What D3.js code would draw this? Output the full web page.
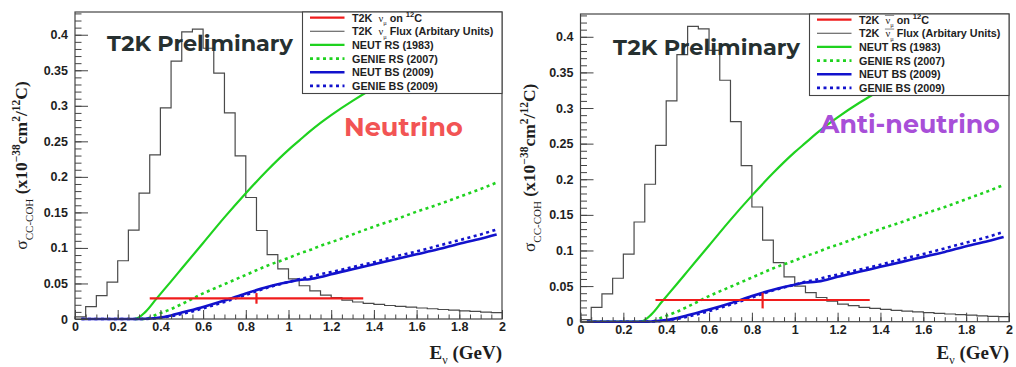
<!DOCTYPE html>
<html><head><meta charset="utf-8">
<script src="https://cdn.jsdelivr.net/npm/d3@7"></script>
<style>body{margin:0;background:#fff} svg{display:block} text{white-space:pre}</style>
</head><body><svg id="c" width="1016" height="367"></svg>
<script>
// ---------------- DATA ----------------
const fluxBinEdges = [0,0.05,0.1,0.15,0.2,0.25,0.3,0.35,0.4,0.45,0.5,0.55,0.6,0.65,0.7,0.75,0.8,0.85,0.9,0.95,1.0,
  1.05,1.1,1.15,1.2,1.25,1.3,1.35,1.4,1.45,1.5,1.55,1.6,1.65,1.7,1.75,1.8,1.85,1.9,1.95,2.0];
const fluxNu = [0.003,0.0175,0.033,0.052,0.082,0.125,0.177,0.231,0.297,0.363,0.404,0.408,0.381,0.346,0.290,0.2295,
  0.171,0.1245,0.0905,0.0705,0.0565,0.0468,0.0395,0.0337,0.030,0.0267,0.0239,0.022,0.0205,0.019,0.0178,0.0166,
  0.0155,0.0144,0.0134,0.0124,0.0115,0.0106,0.0098,0.0090];
const fluxNuBar = [0.003,0.020,0.039,0.061,0.095,0.140,0.193,0.2475,0.310,0.375,0.4145,0.411,0.381,0.339,0.281,0.219,
  0.161,0.1146,0.083,0.063,0.050,0.0407,0.034,0.029,0.0248,0.0225,0.020,0.0187,0.0172,0.016,0.0149,0.0138,
  0.0128,0.0118,0.0108,0.0099,0.0091,0.0083,0.0076,0.0070];

const curveE  = [0.03,0.1,0.2,0.28,0.33,0.38,0.45,0.5,0.6,0.7,0.8,0.9,1.0,1.05,1.1,1.15,1.2,1.3,1.4,1.5,1.6,1.7,1.8,1.9,1.975];
const neutRS  = [0,0,0,0,0.010,0.028,0.053,0.071,0.107,0.143,0.177,0.209,0.238,0.251,0.264,0.276,0.287,0.307,0.325,0.341,0.356,0.370,0.383,0.395,0.404];
const genieRS = [null,null,null,0,0,0.006,0.014,0.021,0.036,0.049,0.062,0.075,0.086,0.092,0.097,0.103,0.108,0.119,0.130,0.140,0.151,0.161,0.172,0.183,0.192];
const neutBS  = [0,0,0,0,0.0003,0.0015,0.005,0.009,0.017,0.026,0.036,0.045,0.052,0.055,0.056,0.059,0.063,0.070,0.077,0.084,0.091,0.098,0.106,0.113,0.119];
const genieBS = [0,0,0,0,0.0002,0.001,0.004,0.007,0.015,0.024,0.034,0.044,0.052,0.056,0.059,0.063,0.066,0.073,0.080,0.088,0.095,0.103,0.111,0.119,0.126];

// T2K measurement [neutrino, anti-neutrino]
const measE      = [0.85, 0.85];
const measSigma  = [0.029, 0.0305];
const measErrLo  = [0.0075, 0.0118];
const measErrHi  = [0.0075, 0.0102];
const measBinLo  = [0.35, 0.35];
const measBinHi  = [1.35, 1.35];

const xTicks = [0,0.2,0.4,0.6,0.8,1,1.2,1.4,1.6,1.8,2];
const xTickLabels = ["0","0.2","0.4","0.6","0.8","1","1.2","1.4","1.6","1.8","2"];
const yTicks = [0,0.05,0.1,0.15,0.2,0.25,0.3,0.35,0.4];
const yTickLabels = ["0","0.05","0.1","0.15","0.2","0.25","0.3","0.35","0.4"];
const panelTitles = ["Neutrino","Anti-neutrino"];
const legendNames = ["NEUT RS (1983)","GENIE RS (2007)","NEUT BS (2009)","GENIE BS (2009)"];

// ---------------- LAYOUT / STYLE ----------------
const panels = [
  {x0:75, x1:502, y0:12, y1:319, flux:fluxNu, idx:0, anti:false, titleColor:"#f25454",
   prelim:{x:107, y:50.5, w:186}, title:{x:344, y:136, w:119}, ytitleX:27, xtitleY:359},
  {x0:580.5, x1:1009, y0:14, y1:321.7, flux:fluxNuBar, idx:1, anti:true, titleColor:"#a84fd8",
   prelim:{x:613, y:55, w:187}, title:{x:820, y:132.5, w:180}, ytitleX:535, xtitleY:359}
];
const C = {green:"#1fd21f", blue:"#1212cc", red:"#f01c1c", hist:"#4a4a4a", frame:"#444", text:"#1e1e1e"};
const svg = d3.select("#c");
const sans = "'Liberation Sans', Arial, sans-serif";
const serif = "'Liberation Serif', 'Times New Roman', serif";

function richText(sel, segs, base) {
  let cur = 0;
  segs.forEach(s => {
    const shift = s.sub ? base*0.32 : s.sup ? -base*0.42 : 0;
    const ts = sel.append("tspan").text(s.t).attr("dy", shift - cur);
    cur = shift;
    if (s.size) ts.attr("font-size", s.size);
    if (s.family) ts.attr("font-family", s.family);
    if (s.weight) ts.attr("font-weight", s.weight);
  });
}

function fitText(t, w) {
  const cur = t.node().getComputedTextLength();
  const fs = parseFloat(t.attr("font-size"));
  t.attr("font-size", fs * w / cur);
}

panels.forEach(p => {
  const g = svg.append("g");
  const x = d3.scaleLinear().domain([0,2]).range([p.x0,p.x1]);
  const y = d3.scaleLinear().domain([0,0.432]).range([p.y1,p.y0]);

  // histogram (flux)
  let d = `M${x(fluxBinEdges[0])},${y(0)}`;
  p.flux.forEach((v,i) => { d += `L${x(fluxBinEdges[i])},${y(v)}L${x(fluxBinEdges[i+1])},${y(v)}`; });
  g.append("path").attr("d", d).attr("fill","none").attr("stroke",C.hist).attr("stroke-width",1.2);

  // "T2K Preliminary"
  const pt = g.append("text").attr("x",p.prelim.x).attr("y",p.prelim.y).text("T2K Preliminary")
    .attr("font-family","Montserrat, Inter, 'Open Sans', sans-serif").attr("font-weight",700)
    .attr("font-size",24).attr("fill","#263030");
  fitText(pt, p.prelim.w);

  // curves
  const line = ys => d3.line().defined((v,i)=>ys[i]!==null).x((v,i)=>x(curveE[i])).y((v,i)=>y(ys[i])).curve(d3.curveMonotoneX)(curveE);
  g.append("path").attr("d",line(neutRS)).attr("fill","none").attr("stroke",C.green).attr("stroke-width",2.2);
  g.append("path").attr("d",line(genieRS)).attr("fill","none").attr("stroke",C.green).attr("stroke-width",2.6).attr("stroke-dasharray","3,3.5");
  g.append("path").attr("d",line(neutBS)).attr("fill","none").attr("stroke",C.blue).attr("stroke-width",2.6);
  g.append("path").attr("d",line(genieBS)).attr("fill","none").attr("stroke",C.blue).attr("stroke-width",2.6).attr("stroke-dasharray","3,3.5");

  // measurement
  const k = p.idx;
  g.append("line").attr("x1",x(measBinLo[k])).attr("x2",x(measBinHi[k])).attr("y1",y(measSigma[k])).attr("y2",y(measSigma[k]))
    .attr("stroke",C.red).attr("stroke-width",2.2);
  g.append("line").attr("x1",x(measE[k])).attr("x2",x(measE[k])).attr("y1",y(measSigma[k]-measErrLo[k])).attr("y2",y(measSigma[k]+measErrHi[k]))
    .attr("stroke",C.red).attr("stroke-width",2.2);

  // panel title
  const tt = g.append("text").attr("x",p.title.x).attr("y",p.title.y).text(panelTitles[k])
    .attr("font-family","Montserrat, Inter, 'Open Sans', sans-serif").attr("font-weight",700)
    .attr("font-size",26).attr("fill",p.titleColor);
  fitText(tt, p.title.w);

  // axes: minor ticks
  const xMinor = d3.axisBottom(x).tickValues(d3.range(0,2.0001,0.05)).tickSize(-4.5).tickFormat("");
  const yMinor = d3.axisLeft(y).tickValues(d3.range(0,0.4301,0.01)).tickSize(-6.5).tickFormat("");
  g.append("g").attr("transform",`translate(0,${p.y1})`).call(xMinor);
  g.append("g").attr("transform",`translate(${p.x0},0)`).call(yMinor);
  const xAxis = d3.axisBottom(x).tickValues(xTicks).tickFormat((v,i)=>xTickLabels[i]).tickSize(-9).tickPadding(3.5);
  const yAxis = d3.axisLeft(y).tickValues(yTicks).tickFormat((v,i)=>yTickLabels[i]).tickSize(-13).tickPadding(7);
  g.append("g").attr("class","ax").attr("transform",`translate(0,${p.y1})`).call(xAxis);
  g.append("g").attr("class","ax").attr("transform",`translate(${p.x0},0)`).call(yAxis);
  g.selectAll(".domain").remove();
  g.selectAll(".tick line").attr("stroke",C.frame).attr("stroke-width",1);
  g.selectAll(".ax text").attr("font-family",sans).attr("font-weight",700).attr("font-size",12.5).attr("fill",C.text);

  // frame
  g.append("rect").attr("x",p.x0).attr("y",p.y0).attr("width",p.x1-p.x0).attr("height",p.y1-p.y0)
    .attr("fill","none").attr("stroke",C.frame).attr("stroke-width",1.2);

  // legend
  const lx = p.x1 - 199.5, ly = p.y0, lh = 81.5;
  const lg = g.append("g");
  lg.append("rect").attr("x",lx).attr("y",ly).attr("width",199.5).attr("height",lh)
    .attr("fill","#fff").attr("stroke",C.frame).attr("stroke-width",1.1);
  const rows = [
    {stroke:C.red, w:2.2},
    {stroke:C.hist, w:1.1},
    {stroke:C.green, w:2.4},
    {stroke:C.green, w:2.8, dash:"3,3.5"},
    {stroke:C.blue, w:2.6},
    {stroke:C.blue, w:2.8, dash:"3,3.5"}
  ];
  rows.forEach((r,i) => {
    const ry = ly + 5.6 + i*13.65;
    lg.append("line").attr("x1",lx+7.5).attr("x2",lx+42).attr("y1",ry).attr("y2",ry)
      .attr("stroke",r.stroke).attr("stroke-width",r.w).attr("stroke-dasharray",r.dash||null);
    const t = lg.append("text").attr("x",lx+49.5).attr("y",ry+4)
      .attr("font-family",sans).attr("font-weight",700).attr("font-size",10.8).attr("fill",C.text);
    const nu = [{t:"T2K  "},{t:"ν",family:serif,weight:400,size:10.5},{t:"μ",sub:true,family:serif,weight:400,size:6.5}];
    if (i===0) richText(t, nu.concat([{t:" on "},{t:"12",sup:true,size:7.5},{t:"C"}]), 10.8);
    else if (i===1) richText(t, nu.concat([{t:" Flux (Arbitary Units)"}]), 10.8);
    else richText(t, [{t:legendNames[i-2]}], 10.8);
    if (p.anti && i<2) {
      const s = t.node().textContent;
      const a = s.indexOf("ν"), b = s.indexOf("μ");
      const x1 = t.node().getStartPositionOfChar(a).x, x2 = t.node().getEndPositionOfChar(b).x;
      lg.append("line").attr("x1",x1-0.5).attr("x2",x2+0.5).attr("y1",ry-4.2).attr("y2",ry-4.2)
        .attr("stroke","#666").attr("stroke-width",0.8);
    }
  });

  // axis titles
  const xt = g.append("text").attr("x",p.x1).attr("y",p.xtitleY).attr("text-anchor","end")
    .attr("font-family",serif).attr("font-weight",700).attr("font-size",19).attr("fill",C.text);
  richText(xt, [{t:"E"},{t:"ν",sub:true,size:12,weight:400},{t:" (GeV)"}], 16);

  const yt = g.append("text").attr("transform",`translate(${p.ytitleX},${(p.y0+p.y1)/2}) rotate(-90)`)
    .attr("text-anchor","middle").attr("dy","0.35em")
    .attr("font-family",serif).attr("font-weight",700).attr("font-size",17.5).attr("fill",C.text);
  richText(yt, [{t:"σ",weight:400},{t:"CC-COH",sub:true,size:11,weight:400},{t:" (x10"},{t:"−38",sup:true,size:11.5},
    {t:"cm"},{t:"2",sup:true,size:11.5},{t:"/"},{t:"12",sup:true,size:11.5},{t:"C)"}], 17.5);
});
</script></body></html>
